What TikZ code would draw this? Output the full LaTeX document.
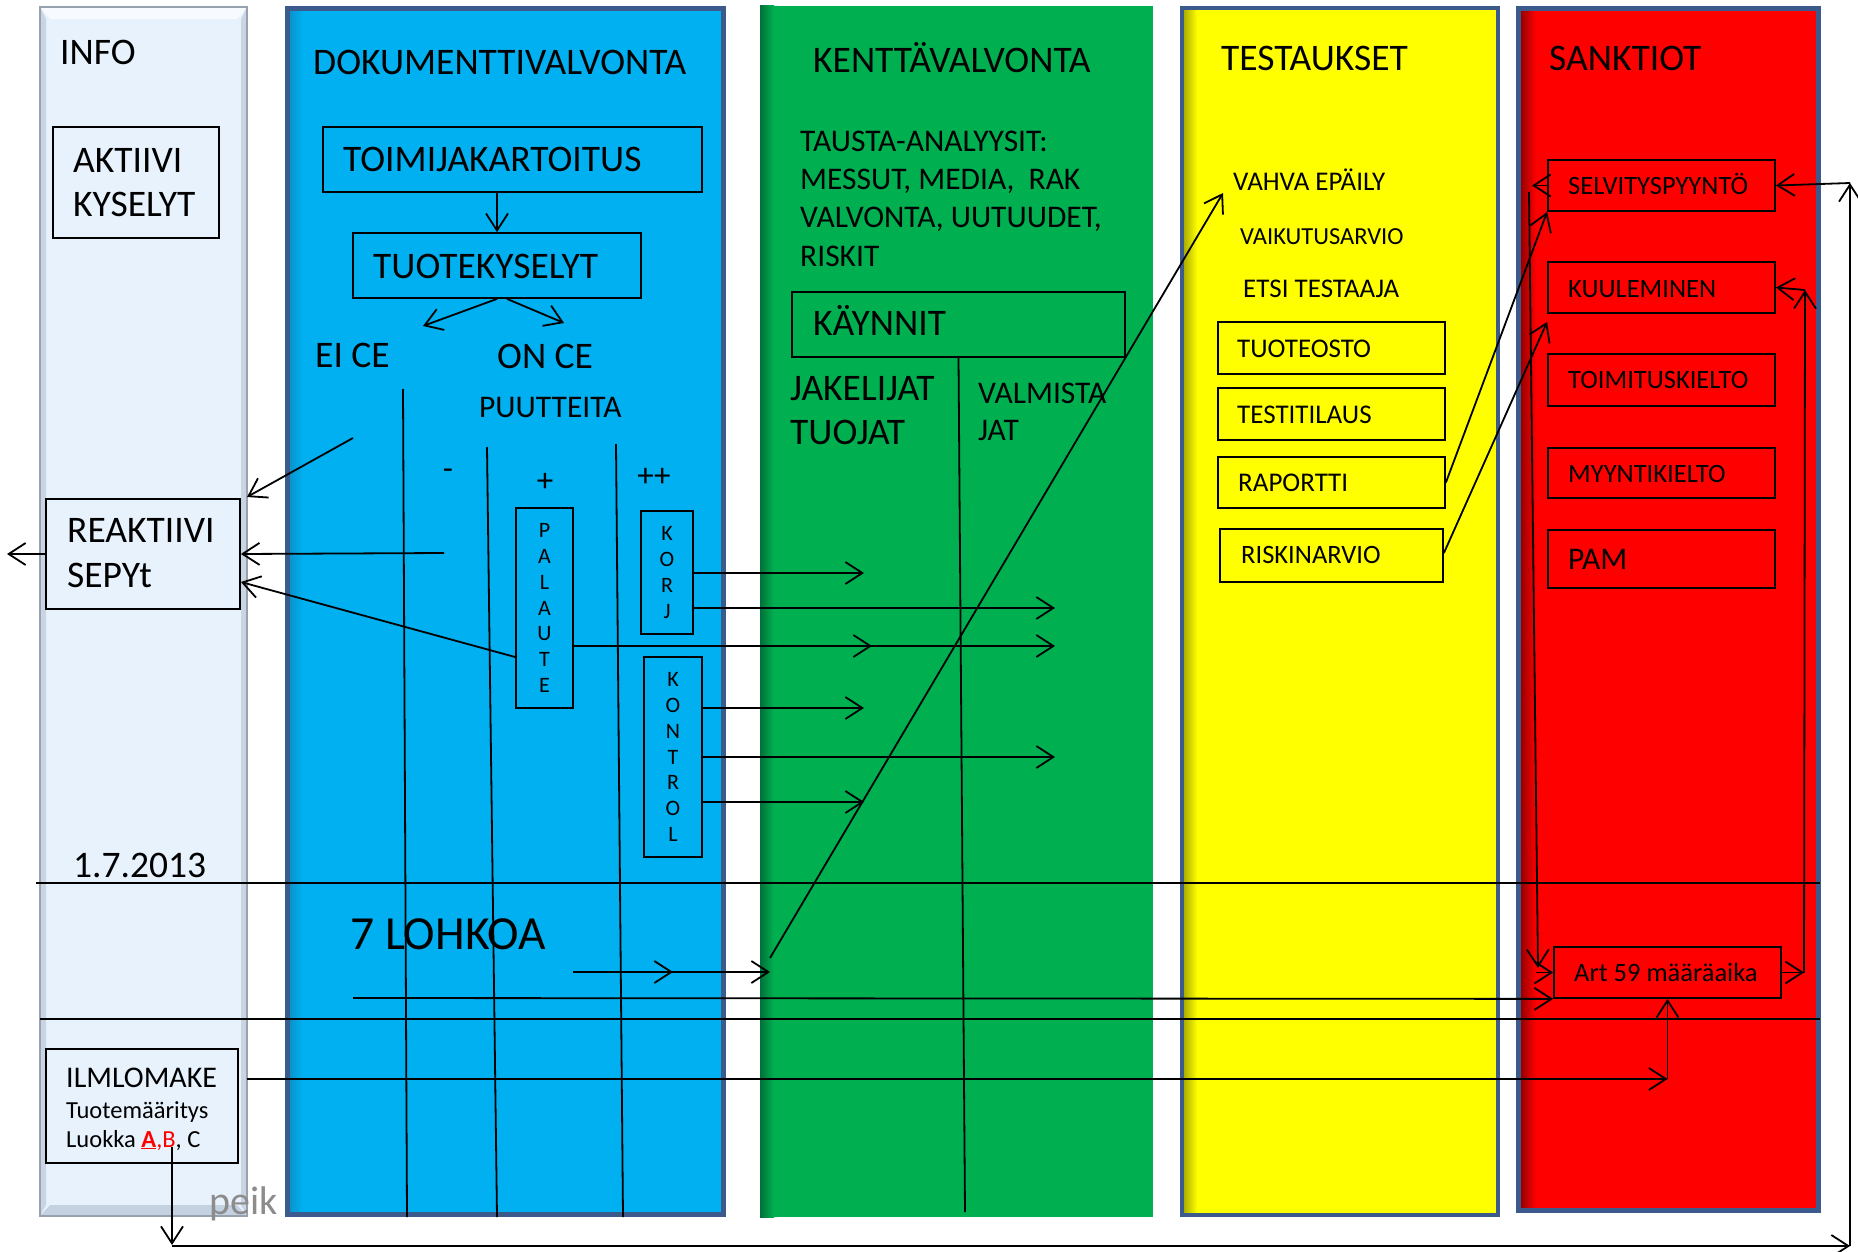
\documentclass[tikz,border=0pt]{standalone}
\usepackage{fontspec}
\setmainfont{Carlito}
\usetikzlibrary{arrows.meta,calc}
\definecolor{infofill}{HTML}{E8F2FD}
\definecolor{infotop}{HTML}{F7FAFE}
\definecolor{infobot}{HTML}{C3D1E0}
\definecolor{infoside}{HTML}{C9D5E2}
\definecolor{infoedge}{HTML}{98A2AE}
\definecolor{dokblue}{HTML}{00B0F0}
\definecolor{dokshade}{HTML}{0A90C8}
\definecolor{kgreen}{HTML}{00B050}
\definecolor{kshade}{HTML}{00703A}
\definecolor{tyellow}{HTML}{FFFF00}
\definecolor{tshade}{HTML}{A8A800}
\definecolor{sred}{HTML}{FF0000}
\definecolor{sshade}{HTML}{8A0000}
\definecolor{slate}{HTML}{3C5A8C}
\definecolor{footgray}{HTML}{8C8C8C}
\begin{document}
\begin{tikzpicture}[x=1pt,y=-1pt,
  ln/.style={line width=1.8pt},
  ar/.style={line width=1.8pt,-{Straight Barb[length=17pt,width=22pt]}},
  bx/.style={draw,line width=1.8pt,inner sep=0pt},
  t46/.style={font=\fontsize{47.5}{55}\selectfont,anchor=base west,inner sep=0pt},
  t36/.style={font=\fontsize{37.5}{45}\selectfont,anchor=base west,inner sep=0pt},
  t30/.style={font=\fontsize{31.5}{38}\selectfont,anchor=base west,inner sep=0pt},
  t28/.style={font=\fontsize{30}{36}\selectfont,anchor=base west,inner sep=0pt},
  t27/.style={font=\fontsize{27}{32}\selectfont,anchor=base west,inner sep=0pt},
  t26/.style={font=\fontsize{26.5}{31}\selectfont,anchor=base west,inner sep=0pt},
  t24/.style={font=\fontsize{24.5}{29}\selectfont,anchor=base west,inner sep=0pt},
  sign/.style={font=\fontsize{33}{38}\selectfont,inner sep=0pt},
  vlet/.style={font=\fontsize{22}{25.7}\selectfont,align=center},
]
\useasboundingbox (0,0) rectangle (1858,1252);
\fill[white] (0,0) rectangle (1858,1252);

% ---------- columns ----------
% INFO
\fill[infofill] (40,7) rectangle (247,1216);
\fill[infotop] (40,7) -- (247,7) -- (237,19) -- (50,19) -- cycle;
\fill[infobot] (40,1216) -- (247,1216) -- (237,1205) -- (50,1205) -- cycle;
\fill[infoside] (40,7) -- (46,19) -- (46,1205) -- (40,1216) -- cycle;
\fill[infoside] (247,7) -- (241,19) -- (241,1205) -- (247,1216) -- cycle;
\draw[infoedge, line width=1.2pt] (40,7) rectangle (247,1216);
\node[font=\fontsize{40}{46}\selectfont, text=footgray, anchor=base west, inner sep=0pt] (peik) at (209,1214) {peik};

% DOKUMENTTIVALVONTA
\fill[dokblue] (285,6) rectangle (726,1217);
\shade[left color=dokshade, right color=dokblue] (288,8) rectangle (303,1215);
\draw[slate, line width=5pt] (287.5,8.5) rectangle (723.5,1214.5);

% KENTTAVALVONTA
\fill[kgreen] (760,6) rectangle (1153,1217);
\shade[left color=kshade, right color=kgreen] (760,6) rectangle (774,1217);

% TESTAUKSET
\fill[tyellow] (1180,6) rectangle (1500,1217);
\shade[left color=tshade, right color=tyellow] (1183,8) rectangle (1197,1215);
\draw[slate, line width=4.5pt] (1182,8) rectangle (1498,1215);

% SANKTIOT
\fill[sred] (1516,6) rectangle (1821,1213);
\shade[left color=sshade, right color=sred] (1519,8) rectangle (1536,1211);
\draw[slate, line width=5pt] (1518.5,8.5) rectangle (1818.5,1210.5);

% ---------- titles ----------
\node[t36] (tinfo) at (60,65) {INFO};
\node[t36] (tdok) at (313,75) {DOKUMENTTIVALVONTA};
\node[t36] (tkent) at (813,73) {KENTTÄVALVONTA};
\node[t36] (ttest) at (1221,71) {TESTAUKSET};
\node[t36] (tsank) at (1549,71) {SANKTIOT};

% ---------- INFO column ----------
\node[bx, minimum width=166pt, minimum height=111pt] (akt) at (136,182.5) {};
\node[t36] (akt1) at (73,173) {AKTIIVI};
\node[t36] (akt2) at (73,217) {KYSELYT};
\node[bx, minimum width=194pt, minimum height=110pt] (reak) at (143,554) {};
\node[t36] (reak1) at (67,542) {REAKTIIVI};
\node[t36] (reak2) at (67,587) {SEPYt};
\node[bx, minimum width=192pt, minimum height=114pt] (ilm) at (142,1106) {};
\node[t28] (ilm1) at (66,1087) {ILMLOMAKE};
\node[t24] (ilm2) at (66,1118) {Tuotemääritys};
\node[t24] (ilm3) at (66,1147) {Luokka {\color{red}\underline{\textbf{A}},B}, C};
\node[t36] (date) at (73,877) {1.7.2013};

% ---------- DOK column ----------
\node[bx, minimum width=379pt, minimum height=65pt] (toim) at (512.5,159.5) {};
\node[t36] (toimt) at (343,172) {TOIMIJAKARTOITUS};
\node[bx, minimum width=288pt, minimum height=65pt] (tuot) at (497,265.5) {};
\node[t36] (tuott) at (373,278) {TUOTEKYSELYT};
\node[t36] (eice) at (315,367) {EI CE};
\node[t36] (once) at (497,368) {ON CE};
\node[t30] (puut) at (479,417) {PUUTTEITA};
\node[sign] (minus) at (448,474) {-};
\node[sign] (plus) at (545,482) {+};
\node[sign] (pplus) at (654,477) {++};
\node[bx, minimum width=57pt, minimum height=200pt, vlet] (pal) at (544.5,608) {P\\A\\L\\A\\U\\T\\E};
\node[bx, minimum width=52pt, minimum height=123pt, vlet] (korj) at (667,572.5) {K\\O\\R\\J};
\node[bx, minimum width=58pt, minimum height=200pt, vlet] (kon) at (673,757) {K\\O\\N\\T\\R\\O\\L};
\node[t46] (lohko) at (350,949) {7 LOHKOA};

% ---------- KENTTA column ----------
\node[t30] (taus1) at (800,152) {TAUSTA-ANALYYSIT:};
\node[t30] (taus2) at (800,190) {MESSUT, MEDIA,\ \ RAK};
\node[t30] (taus3) at (800,228) {VALVONTA, UUTUUDET,};
\node[t30] (taus4) at (800,266) {RISKIT};
\node[bx, minimum width=333pt, minimum height=65pt] (kay) at (958.5,324.5) {};
\node[t36] (kayt) at (813,335) {KÄYNNIT};
\node[t36] (jak1) at (790,400) {JAKELIJAT};
\node[t36] (jak2) at (790,444) {TUOJAT};
\node[t30] (val1) at (978,403) {VALMISTA};
\node[t30] (val2) at (978,440) {JAT};

% ---------- TESTAUKSET column ----------
\node[t27] (vahva) at (1233,191) {VAHVA EPÄILY};
\node[t24] (vaik) at (1240,244) {VAIKUTUSARVIO};
\node[t27] (etsi) at (1243,297) {ETSI TESTAAJA};
\node[bx, minimum width=227pt, minimum height=52pt] (osto) at (1331.5,348) {};
\node[t27] (ostot) at (1237,357) {TUOTEOSTO};
\node[bx, minimum width=227pt, minimum height=52pt] (testi) at (1331.5,414) {};
\node[t27] (testit) at (1237,423) {TESTITILAUS};
\node[bx, minimum width=227pt, minimum height=51pt] (rap) at (1331.5,482.5) {};
\node[t27] (rapt) at (1238,491) {RAPORTTI};
\node[bx, minimum width=223pt, minimum height=53pt] (risk) at (1331.5,555.5) {};
\node[t26] (riskt) at (1241,563) {RISKINARVIO};

% ---------- SANKTIOT column ----------
\node[bx, minimum width=227pt, minimum height=51pt] (selv) at (1661.5,185.5) {};
\node[t26] (selvt) at (1568,195) {SELVITYSPYYNTÖ};
\node[bx, minimum width=227pt, minimum height=51pt] (kuul) at (1661.5,287.5) {};
\node[t26] (kuult) at (1568,297) {KUULEMINEN};
\node[bx, minimum width=227pt, minimum height=52pt] (toimk) at (1661.5,380) {};
\node[t26] (toimkt) at (1568,388) {TOIMITUSKIELTO};
\node[bx, minimum width=227pt, minimum height=50pt] (myyn) at (1661.5,473) {};
\node[t26] (myynt) at (1568,482) {MYYNTIKIELTO};
\node[bx, minimum width=227pt, minimum height=58pt] (pam) at (1661.5,559) {};
\node[t30] (pamt) at (1568,569) {PAM};
\node[bx, minimum width=227pt, minimum height=51pt] (art) at (1667.5,972.5) {};
\node[t26] (artt) at (1574,981) {Art 59 määräaika};

% ---------- lines ----------
\draw[ln] (403,389) -- (407,1217);
\draw[ln] (487,447) -- (497,1217);
\draw[ln] (616,444) -- (623,1217);
\draw[ln] (36,883) -- (1820,883);
\draw[ln] (40,1019) -- (1820,1019);
\draw[ln] (kay.south) -- (965,1212);

% ---------- connectors ----------
\draw[ar] (tuot.north |- toim.south) -- (tuot.north);
\draw[ar] (tuot.south) -- (423,326);
\draw[ar] ($(tuot.south)+(10,0)$) -- (564,323);
\draw[ar] (353,438) -- (247,497);
\draw[ar] (444,553) -- (reak.east);
\draw[ar] (pal.west |- 0,657) -- (reak.east |- 0,582);
\draw[ar] (reak.west) -- (7,554);
\draw[ar] (korj.east |- 0,573) -- (864,573);
\draw[ar] (korj.east |- 0,608) -- (1055,608);
\draw[ar] (pal.east |- 0,646) -- (872,646);
\draw[ar] (pal.east |- 0,646) -- (1055,646);
\draw[ar] (kon.east |- 0,708) -- (864,708);
\draw[ar] (kon.east |- 0,757) -- (1055,757);
\draw[ar] (kon.east |- 0,802) -- (864,802);
\draw[ar] (770,958) -- (1223,193);
\draw[ar] (573,972) -- (673,972);
\draw[ar] (573,972) -- (770,972);
\draw[ar] (353,998) -- (art.south west);
\draw[ar] (art.east) -- (1804,972.5);
\draw[ar] (1804,972.5) -- (1805,290);
\draw[ar] (1805,290) -- (kuul.east);
\draw[ar] (selv.west) -- (1532,185.5);
\draw[ar] (1529,192) -- (1538,968);
\draw[ar] (1536,972.5) -- (art.west);
\draw[ar] (rap.east) -- (selv.south west);
\draw[ar] (risk.east |- 0,553) -- ($(kuul.south west)+(0,8)$);
\draw[ar] (247,1079) -- (art.south |- 0,1079);
\draw[ar] (art.south |- 0,1079) -- (art.south);
\draw[ar] (172,1147) -- (172,1245);
\draw[ar] (172,1246) -- (1850,1246);
\draw[ar] (1850,1246) -- (1850,183);
\draw[ar] (1850,183) -- (selv.east);
\end{tikzpicture}
\end{document}
